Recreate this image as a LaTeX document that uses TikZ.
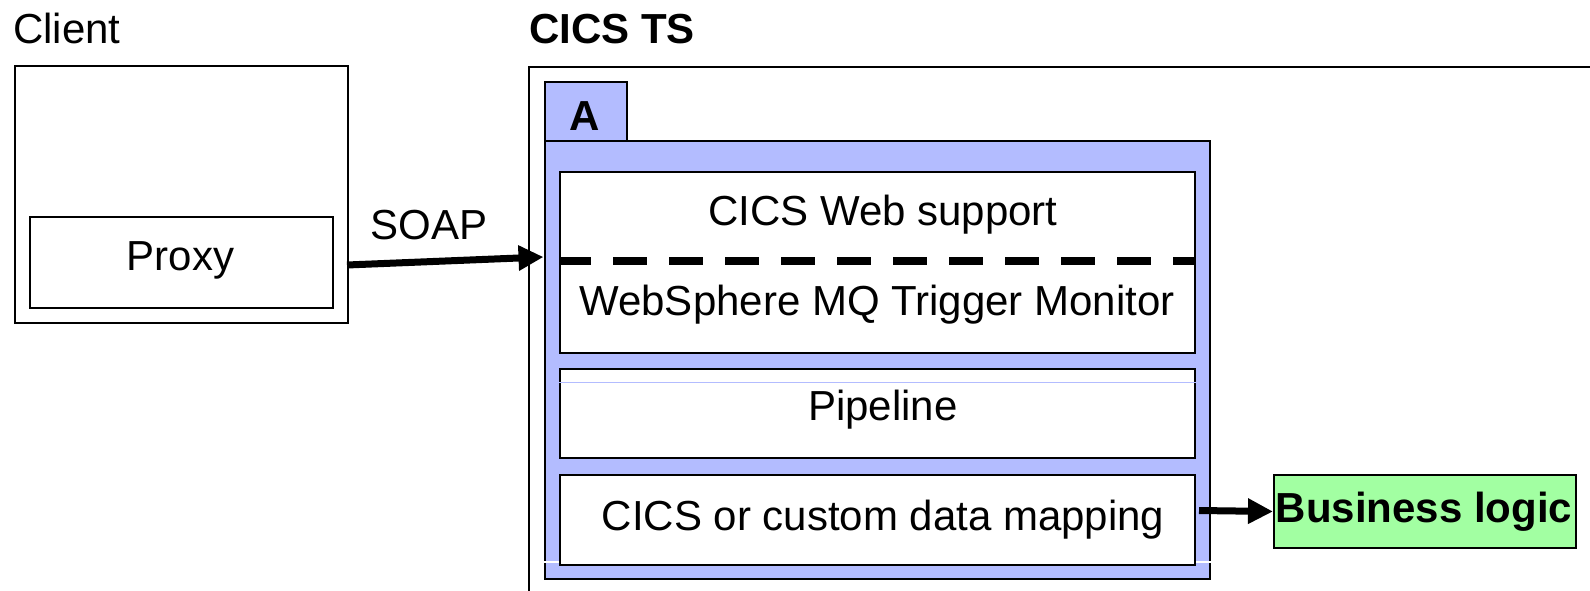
\documentclass[tikz,border=0pt]{standalone}
\usepackage{fontspec}
\setmainfont{Liberation Sans}
\usetikzlibrary{arrows.meta}
\definecolor{regblue}{RGB}{179,188,255}
\definecolor{bizgreen}{RGB}{162,255,162}
\tikzset{
  box/.style={draw=black, line width=2pt, fill=white, rectangle, inner sep=0pt, anchor=north west},
  lbl/.style={font=\fontsize{42}{50}\selectfont, inner sep=0pt, anchor=base},
  blbl/.style={font=\fontsize{42}{50}\selectfont\bfseries, inner sep=0pt, anchor=base},
  bigarrow/.style={line width=7pt, -{Triangle[length=25pt,width=24pt]}}
}
\begin{document}
\begin{tikzpicture}[x=1pt,y=-1pt]
\useasboundingbox (0,0) rectangle (1590,591);
\clip (0,0) rectangle (1590,591);
% Client side
\node[box, minimum width=333pt, minimum height=257pt] (client) at (14,65) {};
\node[box, minimum width=303pt, minimum height=90.5pt] (proxy) at (29,216) {};
\node[lbl] (proxylbl) at (180.5,270) {Proxy};
\node[lbl, anchor=base west] (clientlbl) at (13,44) {Client};
% CICS TS
\node[blbl, anchor=base west] (cicslbl) at (529,44) {CICS TS};
\node[box, minimum width=1100pt, minimum height=560pt] (cics) at (528,66) {};
\node[box, fill=regblue, minimum width=82.5pt, minimum height=59pt] (tab) at (543.5,81) {};
\node[blbl] (tablbl) at (584.5,131) {A};
\node[box, fill=regblue, minimum width=665.5pt, minimum height=438pt] (region) at (543.5,140) {};
\draw[white, line width=1.5pt] (region.west |- 0,562) -- (region.east |- 0,562);
\node[box, minimum width=635pt, minimum height=181.5pt] (box1) at (559,170.5) {};
\node[box, minimum width=635pt, minimum height=89pt] (pipe) at (559,368) {};
\draw[regblue, line width=1pt] (pipe.west |- 0,382) -- (pipe.east |- 0,382);
\node[box, minimum width=635pt, minimum height=90pt] (map) at (559,474) {};
\draw[line width=8pt, dash pattern=on 34pt off 22pt, dash phase=2pt] (box1.west |- 0,261) -- (box1.east |- 0,261);
\node[lbl] (websup) at (883,225) {CICS Web support};
\node[lbl] (mqtm) at (877,315) {WebSphere MQ Trigger Monitor};
\node[lbl] (pipelbl) at (883,420) {Pipeline};
\node[lbl] (maplbl) at (883,530) {CICS or custom data mapping};
% Business logic
\node[box, fill=bizgreen, minimum width=302pt, minimum height=73pt] (biz) at (1273,474) {};
\node[blbl] (bizlbl) at (1424,522) {Business logic};
% Connectors
\coordinate (soapS) at (347,265);
\coordinate (soapE) at (543.5,257);
\draw[bigarrow] (soapS) -- (soapE);
\node[lbl] (soaplbl) at (429,239) {SOAP};
\coordinate (bizS) at (1199,510.5);
\draw[bigarrow] (bizS) -- (biz.west);
\end{tikzpicture}
\end{document}
